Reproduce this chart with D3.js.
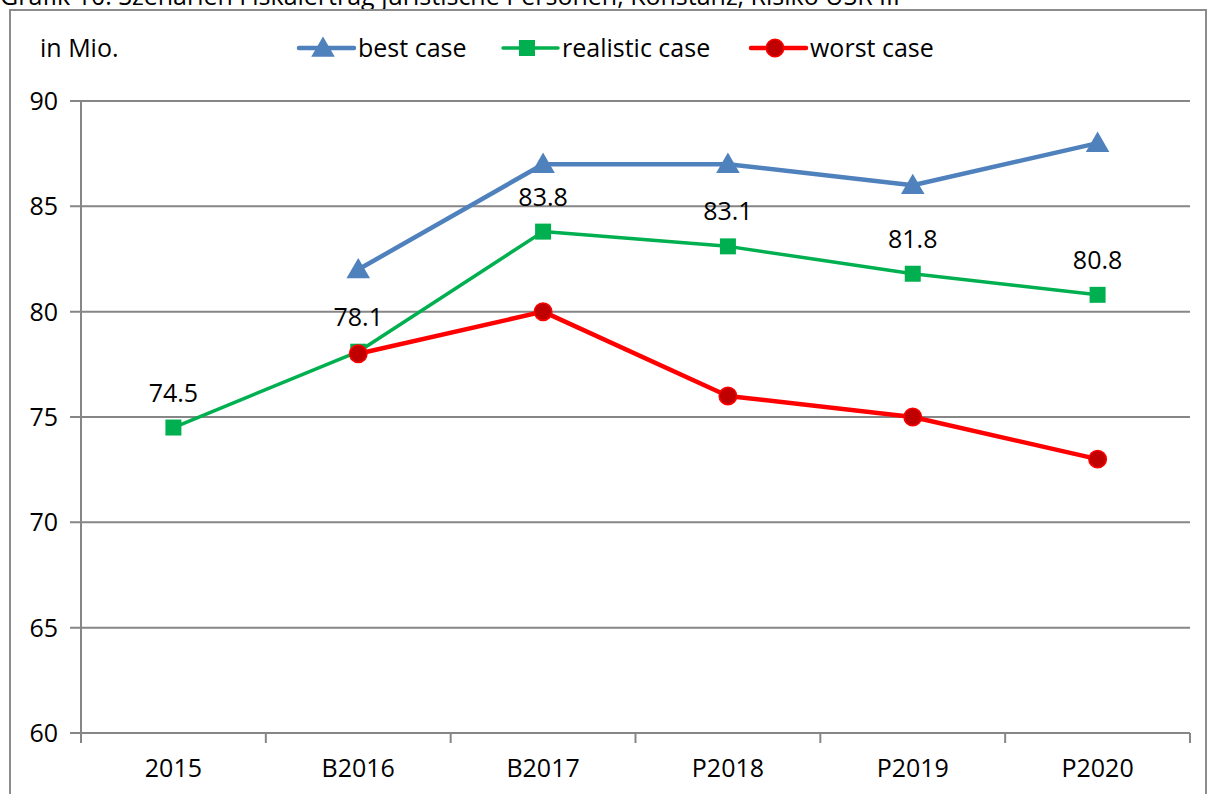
<!DOCTYPE html>
<meta charset="utf-8">
<style>
  body { margin: 0; background: #fff; }
  svg text { font-family: 'Open Sans', sans-serif; fill: #000; }
  .grid line { stroke: #868686; stroke-width: 2px; }
  .lbl { font-size: 25px; }
</style>
<body>
<div id="chart"></div>
<script src="https://d3js.org/d3.v7.min.js"></script>
<script>
var categories = ['2015', 'B2016', 'B2017', 'P2018', 'P2019', 'P2020'];
var bestCase = [null, 82, 87, 87, 86, 88];
var realisticCase = [74.5, 78.1, 83.8, 83.1, 81.8, 80.8];
var worstCase = [null, 78, 80, 76, 75, 73];
var yTicks = [60, 65, 70, 75, 80, 85, 90];

var width = 1215, height = 794;

var svg = d3.select('#chart').append('svg')
    .attr('width', width)
    .attr('height', height);

// cut-off title above the frame
svg.append('text')
    .attr('x', 0)
    .attr('y', 5)
    .style('font-size', '25px')
    .text('Grafik 10: Szenarien Fiskalertrag juristische Personen, Konstanz, Risiko USR III');

// chart frame
svg.append('rect')
    .attr('x', 10).attr('y', 10)
    .attr('width', 1196).attr('height', 800)
    .attr('fill', '#fff')
    .attr('stroke', '#8c8c8c')
    .attr('stroke-width', 2);

var x = d3.scaleBand().domain(categories).range([81, 1190]);
var y = d3.scaleLinear().domain([60, 90]).range([733, 101]);
var cx = function (c) { return x(c) + x.bandwidth() / 2; };

// gridlines
svg.append('g').attr('class', 'grid')
  .selectAll('line')
    .data(yTicks.slice(1))
  .enter().append('line')
    .attr('x1', 70).attr('x2', 1190)
    .attr('y1', function (d) { return y(d); })
    .attr('y2', function (d) { return y(d); });

// axes
var axisColor = '#868686';
svg.append('line')
    .attr('x1', 81).attr('x2', 81).attr('y1', 101).attr('y2', 733)
    .attr('stroke', axisColor).attr('stroke-width', 2);
svg.append('line')
    .attr('x1', 70).attr('x2', 1190).attr('y1', 733).attr('y2', 733)
    .attr('stroke', axisColor).attr('stroke-width', 2);

var xEdges = categories.map(function (c) { return x(c); }).concat([x.range()[1]]);
svg.append('g').selectAll('line')
    .data(xEdges)
  .enter().append('line')
    .attr('x1', function (d) { return d; })
    .attr('x2', function (d) { return d; })
    .attr('y1', 733).attr('y2', 743)
    .attr('stroke', axisColor).attr('stroke-width', 2);

svg.append('g').selectAll('text')
    .data(yTicks)
  .enter().append('text')
    .attr('class', 'lbl')
    .attr('x', 58)
    .attr('y', function (d) { return y(d) + 9; })
    .attr('text-anchor', 'end')
    .text(function (d) { return d; });

svg.append('g').selectAll('text')
    .data(categories)
  .enter().append('text')
    .attr('class', 'lbl')
    .attr('x', cx)
    .attr('y', 777)
    .attr('text-anchor', 'middle')
    .text(function (d) { return d; });

svg.append('text')
    .attr('class', 'lbl')
    .attr('x', 40).attr('y', 57)
    .text('in Mio.');

var series = [
  { name: 'best case', values: bestCase, color: '#4F81BD', width: 4.5, marker: 'triangle', fill: '#4F81BD', stroke: '#4F81BD' },
  { name: 'realistic case', values: realisticCase, color: '#00B050', width: 3.5, marker: 'square', fill: '#00B050', stroke: '#00B050' },
  { name: 'worst case', values: worstCase, color: '#FF0000', width: 4.5, marker: 'circle', fill: '#C00000', stroke: '#FF0000' }
];

var symbols = {
  triangle: d3.symbol().type(d3.symbolTriangle).size(240),
  square: d3.symbol().type(d3.symbolSquare).size(256),
  circle: d3.symbol().type(d3.symbolCircle).size(240)
};

var line = d3.line()
    .defined(function (d) { return d.v !== null; })
    .x(function (d) { return cx(d.c); })
    .y(function (d) { return y(d.v); });

series.forEach(function (s) {
  var pts = s.values.map(function (v, i) { return { c: categories[i], v: v }; });
  var g = svg.append('g');
  g.append('path')
      .datum(pts)
      .attr('d', line)
      .attr('fill', 'none')
      .attr('stroke', s.color)
      .attr('stroke-width', s.width)
      .attr('stroke-linejoin', 'round');
  g.selectAll('path.m')
      .data(pts.filter(function (d) { return d.v !== null; }))
    .enter().append('path')
      .attr('class', 'm')
      .attr('d', symbols[s.marker])
      .attr('transform', function (d) {
        var off = s.marker === 'triangle' ? 2 : 0;
        return 'translate(' + cx(d.c) + ',' + (y(d.v) + off) + ')';
      })
      .attr('fill', s.fill)
      .attr('stroke', s.stroke)
      .attr('stroke-width', s.marker === 'circle' ? 1.5 : 0);
});

// data labels on realistic case
svg.append('g').selectAll('text')
    .data(realisticCase)
  .enter().append('text')
    .attr('class', 'lbl')
    .attr('x', function (d, i) { return cx(categories[i]); })
    .attr('y', function (d) { return y(d) - 26; })
    .attr('text-anchor', 'middle')
    .text(function (d) { return d.toFixed(1); });

// legend
var legendX = [299, 503, 751];
var leg = svg.append('g').selectAll('g')
    .data(series)
  .enter().append('g')
    .attr('transform', function (d, i) { return 'translate(' + legendX[i] + ',48)'; });
leg.append('line')
    .attr('x1', 0).attr('x2', 55)
    .attr('stroke', function (d) { return d.color; })
    .attr('stroke-width', function (d) { return d.width; })
    .attr('stroke-linecap', 'round');
leg.append('path')
    .attr('d', function (d) { return symbols[d.marker](); })
    .attr('transform', function (d) { return 'translate(24,' + (d.marker === 'triangle' ? 2 : 0) + ')'; })
    .attr('fill', function (d) { return d.fill; })
    .attr('stroke', function (d) { return d.stroke; })
    .attr('stroke-width', function (d) { return d.marker === 'circle' ? 1.5 : 0; });
leg.append('text')
    .attr('class', 'lbl')
    .attr('x', 59).attr('y', 9)
    .text(function (d) { return d.name; });
</script>
</body>
